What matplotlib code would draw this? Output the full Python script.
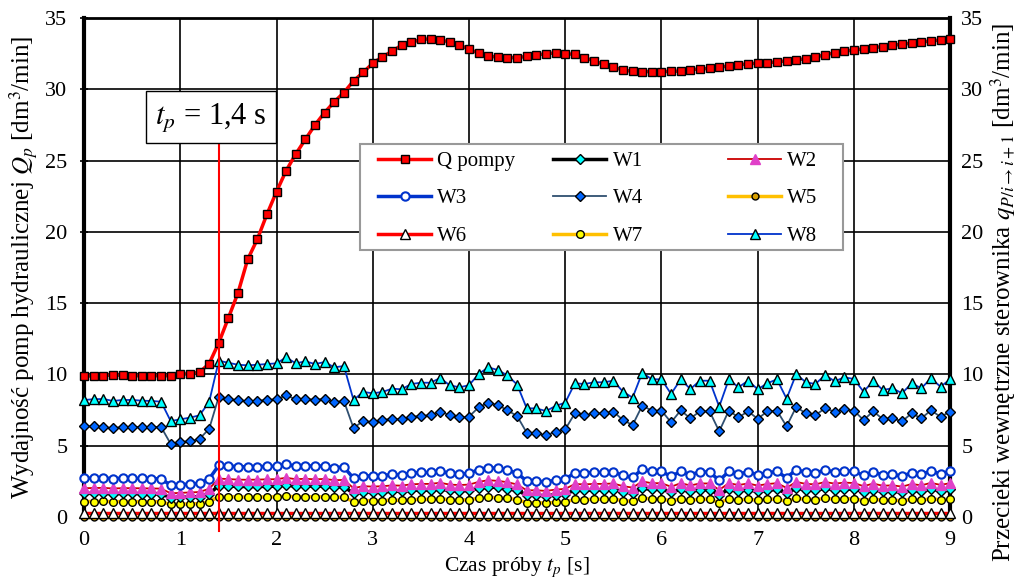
import numpy as np
import matplotlib
matplotlib.use("Agg")
import matplotlib.pyplot as plt
from matplotlib.patches import Rectangle
from matplotlib.legend import Legend

plt.rcParams['font.family'] = ['Liberation Serif', 'DejaVu Serif']
plt.rcParams['mathtext.fontset'] = 'stix'

# czas probki [s], co 0,1 s
t = np.round(np.linspace(0, 9, 91), 1)

q_pompy = [9.86, 9.9, 9.9, 9.97, 9.92, 9.9, 9.9, 9.9, 9.9, 9.9,
           10.0, 10.05, 10.14, 10.75, 12.21, 13.96, 15.72, 18.06, 19.47, 21.22,
           22.82, 24.29, 25.46, 26.49, 27.5, 28.37, 29.12, 29.77, 30.59, 31.18,
           31.83, 32.28, 32.66, 33.1, 33.29, 33.5, 33.54, 33.45, 33.33, 33.12,
           32.8, 32.54, 32.35, 32.24, 32.21, 32.22, 32.31, 32.4, 32.5, 32.55,
           32.5, 32.45, 32.22, 31.99, 31.75, 31.56, 31.35, 31.26, 31.24, 31.24,
           31.24, 31.26, 31.28, 31.38, 31.42, 31.47, 31.56, 31.63, 31.7, 31.8,
           31.82, 31.87, 31.92, 32.0, 32.08, 32.13, 32.25, 32.43, 32.55, 32.67,
           32.76, 32.83, 32.92, 33.0, 33.1, 33.15, 33.25, 33.32, 33.39, 33.46,
           33.5]

w8 = [8.2, 8.25, 8.27, 8.13, 8.2, 8.2, 8.15, 8.13, 8.08, 6.72,
      6.84, 6.96, 7.12, 8.06, 10.95, 10.81, 10.67, 10.63, 10.67, 10.72,
      10.77, 11.19, 10.77, 10.91, 10.72, 10.86, 10.49, 10.58, 8.2, 8.76,
      8.67, 8.76, 8.99, 8.95, 9.32, 9.41, 9.41, 9.74, 9.23, 9.09,
      9.23, 10.02, 10.49, 10.3, 9.92, 9.28, 7.61, 7.61, 7.42, 7.78,
      8.01, 9.37, 9.32, 9.44, 9.44, 9.55, 8.78, 8.36, 10.11, 9.65,
      9.65, 8.62, 9.65, 8.97, 9.55, 9.55, 7.73, 9.65, 9.09, 9.55,
      8.95, 9.37, 9.65, 8.29, 10.02, 9.44, 9.32, 9.95, 9.51, 9.79,
      9.67, 8.78, 9.53, 8.9, 9.02, 8.67, 9.37, 9.02, 9.72, 9.13,
      9.65]

w4 = [6.35, 6.35, 6.3, 6.22, 6.31, 6.31, 6.31, 6.31, 6.31, 5.12,
      5.26, 5.3, 5.47, 6.17, 8.43, 8.25, 8.2, 8.1, 8.15, 8.2,
      8.25, 8.52, 8.25, 8.29, 8.2, 8.29, 8.06, 8.13, 6.23, 6.72,
      6.65, 6.79, 6.88, 6.84, 7.03, 7.07, 7.14, 7.38, 7.14, 6.98,
      7.03, 7.68, 8.01, 7.85, 7.47, 7.07, 5.9, 5.86, 5.72, 5.97,
      6.14, 7.26, 7.12, 7.26, 7.26, 7.38, 6.79, 6.44, 7.8, 7.45,
      7.45, 6.63, 7.47, 6.91, 7.4, 7.4, 6.0, 7.45, 6.98, 7.4,
      6.88, 7.4, 7.45, 6.35, 7.71, 7.26, 7.14, 7.61, 7.38, 7.54,
      7.45, 6.79, 7.4, 6.86, 6.91, 6.7, 7.26, 6.91, 7.47, 7.02,
      7.38]

w3 = [2.71, 2.72, 2.73, 2.68, 2.71, 2.71, 2.69, 2.68, 2.67, 2.22,
      2.26, 2.30, 2.35, 2.66, 3.61, 3.57, 3.52, 3.51, 3.52, 3.54,
      3.55, 3.69, 3.55, 3.60, 3.54, 3.58, 3.46, 3.49, 2.71, 2.89,
      2.86, 2.89, 2.97, 2.95, 3.08, 3.11, 3.11, 3.21, 3.05, 3.00,
      3.05, 3.31, 3.46, 3.40, 3.27, 3.06, 2.51, 2.51, 2.45, 2.57,
      2.64, 3.09, 3.08, 3.12, 3.12, 3.15, 2.90, 2.76, 3.34, 3.18,
      3.18, 2.84, 3.18, 2.96, 3.15, 3.15, 2.55, 3.18, 3.00, 3.15,
      2.95, 3.09, 3.18, 2.74, 3.31, 3.12, 3.08, 3.28, 3.14, 3.23,
      3.19, 2.90, 3.14, 2.94, 2.98, 2.86, 3.09, 2.98, 3.21, 3.01,
      3.18]

w2 = [2.01, 2.02, 2.03, 1.99, 2.01, 2.01, 2.00, 1.99, 1.98, 1.65,
      1.68, 1.71, 1.74, 1.97, 2.68, 2.65, 2.61, 2.60, 2.61, 2.63,
      2.64, 2.74, 2.64, 2.67, 2.63, 2.66, 2.57, 2.59, 2.01, 2.15,
      2.12, 2.15, 2.20, 2.19, 2.28, 2.31, 2.31, 2.39, 2.26, 2.23,
      2.26, 2.45, 2.57, 2.52, 2.43, 2.27, 1.86, 1.86, 1.82, 1.91,
      1.96, 2.30, 2.28, 2.31, 2.31, 2.34, 2.15, 2.05, 2.48, 2.36,
      2.36, 2.11, 2.36, 2.20, 2.34, 2.34, 1.89, 2.36, 2.23, 2.34,
      2.19, 2.30, 2.36, 2.03, 2.45, 2.31, 2.28, 2.44, 2.33, 2.40,
      2.37, 2.15, 2.33, 2.18, 2.21, 2.12, 2.30, 2.21, 2.38, 2.24,
      2.36]

w1 = [1.64, 1.65, 1.65, 1.63, 1.64, 1.64, 1.63, 1.63, 1.62, 1.34,
      1.37, 1.39, 1.42, 1.61, 2.19, 2.16, 2.13, 2.13, 2.13, 2.14,
      2.15, 2.24, 2.15, 2.18, 2.14, 2.17, 2.10, 2.12, 1.64, 1.75,
      1.73, 1.75, 1.80, 1.79, 1.86, 1.88, 1.88, 1.95, 1.85, 1.82,
      1.85, 2.00, 2.10, 2.06, 1.98, 1.86, 1.52, 1.52, 1.48, 1.56,
      1.60, 1.87, 1.86, 1.89, 1.89, 1.91, 1.76, 1.67, 2.02, 1.93,
      1.93, 1.72, 1.93, 1.79, 1.91, 1.91, 1.55, 1.93, 1.82, 1.91,
      1.79, 1.87, 1.93, 1.66, 2.00, 1.89, 1.86, 1.99, 1.90, 1.96,
      1.93, 1.76, 1.91, 1.78, 1.80, 1.73, 1.87, 1.80, 1.94, 1.83,
      1.93]

w7 = [1.07, 1.07, 1.08, 1.06, 1.07, 1.07, 1.06, 1.06, 1.05, 0.87,
      0.89, 0.90, 0.93, 1.05, 1.42, 1.41, 1.39, 1.38, 1.39, 1.39,
      1.40, 1.45, 1.40, 1.42, 1.39, 1.41, 1.36, 1.38, 1.07, 1.14,
      1.13, 1.14, 1.17, 1.16, 1.21, 1.22, 1.22, 1.27, 1.20, 1.18,
      1.20, 1.30, 1.36, 1.34, 1.29, 1.21, 0.99, 0.99, 0.96, 1.01,
      1.04, 1.22, 1.21, 1.23, 1.23, 1.24, 1.14, 1.09, 1.31, 1.25,
      1.25, 1.12, 1.25, 1.17, 1.24, 1.24, 1.00, 1.25, 1.18, 1.24,
      1.16, 1.22, 1.25, 1.08, 1.30, 1.23, 1.21, 1.29, 1.24, 1.27,
      1.26, 1.14, 1.24, 1.16, 1.17, 1.13, 1.22, 1.17, 1.26, 1.19,
      1.25]

w6 = [0.3] * 91
w5 = [0.0] * 91

t_p = 1.4

fig = plt.figure(figsize=(10.25, 5.82), dpi=100)
ax = fig.add_axes([0.082, 0.112, 0.845, 0.857])

series = [
    ("W5", w5, dict(color="#FFC000", lw=2.5, marker="o", mfc="#D8A000", mec="black", ms=5)),
    ("W6", w6, dict(color="#FF0000", lw=2.5, marker="^", mfc="white", mec="black", ms=6.5)),
    ("W7", w7, dict(color="#FFC000", lw=2.5, marker="o", mfc="#FFFF00", mec="black", ms=5.5)),
    ("W1", w1, dict(color="black", lw=2.5, marker="D", mfc="#00FFFF", mec="black", ms=5)),
    ("W2", w2, dict(color="#CC0000", lw=1.3, marker="^", mfc="#E040C8", mec="#E040C8", ms=6.5)),
    ("W3", w3, dict(color="#0033CC", lw=2.5, marker="o", mfc="white", mec="#0033CC", ms=6, mew=1.5)),
    ("W4", w4, dict(color="#2F4F70", lw=1.3, marker="D", mfc="#0066FF", mec="black", ms=5.5)),
    ("W8", w8, dict(color="#0033CC", lw=1.3, marker="^", mfc="#00FFFF", mec="black", ms=7)),
    ("Q pompy", q_pompy, dict(color="#FF0000", lw=2.5, marker="s", mfc="#FF0000", mec="black", ms=6)),
]
handles = {}
for name, vals, st in series:
    h, = ax.plot(t, vals, label=name, zorder=3, clip_on=False, **st)
    handles[name] = h

ax.set_xlim(0, 9)
ax.set_ylim(0, 35)
ax.set_xticks(range(0, 10))
ax.set_yticks(range(0, 36, 5))
ax.grid(True, color="black", lw=1.2)
ax.tick_params(labelsize=16, direction="inout", length=6, width=1.2)
ax.tick_params(axis="y", pad=9)
ax.tick_params(axis="x", pad=7)
for side, w in [("left", 3), ("right", 3), ("top", 2), ("bottom", 1.2)]:
    ax.spines[side].set_linewidth(w)

ax.set_xlabel("Czas próby $t_p$ [s]", fontsize=15.5, labelpad=4)
ax.set_ylabel("Wydajność pomp hydraulicznej $Q_p$ [dm$^3$/min]", fontsize=18, labelpad=4)

ax2 = ax.twinx()
ax2.set_ylim(0, 35)
ax2.set_yticks(range(0, 36, 5))
ax2.tick_params(labelsize=16, length=0, pad=8)
ax2.set_ylabel(r"Przecieki wewnętrzne sterownika $q_{P/i\rightarrow i+1}$ [dm$^3$/min]",
               fontsize=18, labelpad=3)
ax2.yaxis.label.set_y(0.45)
for s in ax2.spines.values():
    s.set_visible(False)

# linia czasu przelaczenia
ax.plot([t_p, t_p], [-1.0, 26.5], color="#FF0000", lw=1.5, zorder=4, clip_on=False)
ax.text(1.32, 28.05, "$t_p$ = 1,4 s", fontsize=22, ha="center", va="center", zorder=5,
        bbox=dict(boxstyle="square,pad=0.3", fc="white", ec="black", lw=1))

# legenda w trzech rownych kolumnach (jak w Excelu)
ax.add_patch(Rectangle((0.3187, 0.535), 0.558, 0.212, transform=ax.transAxes,
                       fc="white", ec="#999999", lw=1.5, zorder=5))
columns = [["Q pompy", "W3", "W6"], ["W1", "W4", "W7"], ["W2", "W5", "W8"]]
col_x = [0.3395, 0.5416, 0.7436]
for names, x0 in zip(columns, col_x):
    lg = Legend(ax, [handles[k] for k in names], names, fontsize=15, loc="upper left",
                borderaxespad=0, borderpad=0, frameon=False, handlelength=2.55,
                handletextpad=0.3, labelspacing=0.86)
    lg.set_bbox_to_anchor((x0, 0.733), transform=ax.transAxes)
    lg.set_zorder(6)
    ax.add_artist(lg)

plt.savefig("out.png", dpi=100)
